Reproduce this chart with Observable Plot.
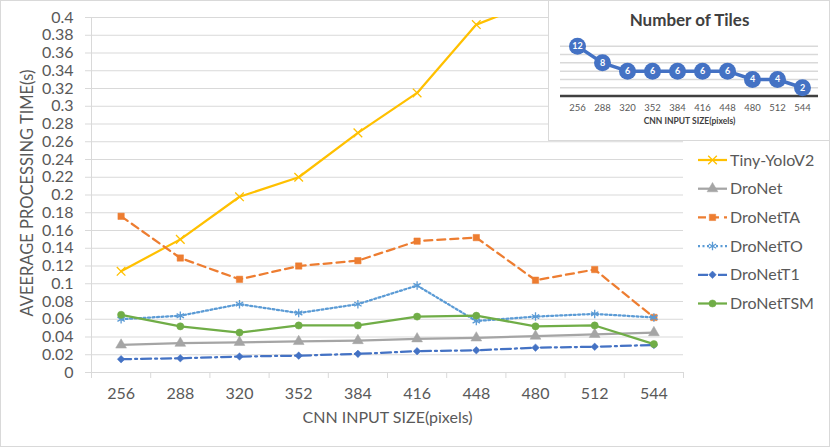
<!DOCTYPE html>
<html><head><meta charset="utf-8">
<script src="https://cdn.jsdelivr.net/npm/d3@7"></script>
<script src="https://cdn.jsdelivr.net/npm/@observablehq/plot@0.6"></script>
<style>
body{margin:0;background:#fff;}
#wrap{position:relative;width:830px;height:447px;overflow:hidden;font-family:Lato,sans-serif;}
#main{position:absolute;left:0;top:0;}
#border{position:absolute;left:0;top:0;width:828px;height:445px;border:1px solid #d9d9d9;pointer-events:none;}
#inset{position:absolute;left:548px;top:0;width:280px;height:139px;border:1px solid #d9d9d9;background:#fff;}
#inset svg{display:block;}
#legend{position:absolute;left:696px;top:146px;}
</style></head><body>
<div id="wrap"><div id="main"></div><div id="legend"></div><div id="inset"></div><div id="border"></div></div>
<script>
// ---- data ----
const sizes = [256, 288, 320, 352, 384, 416, 448, 480, 512, 544];
const tinyYoloV2 = [0.114, 0.150, 0.198, 0.220, 0.270, 0.315, 0.392, 0.418]; // rises beyond the 0.4 top after 448
const droNet    = [0.031, 0.033, 0.034, 0.035, 0.036, 0.038, 0.039, 0.041, 0.043, 0.045];
const droNetTA  = [0.176, 0.129, 0.105, 0.120, 0.126, 0.148, 0.152, 0.104, 0.116, 0.062];
const droNetTO  = [0.060, 0.064, 0.077, 0.067, 0.077, 0.098, 0.058, 0.063, 0.066, 0.062];
const droNetT1  = [0.015, 0.016, 0.018, 0.019, 0.021, 0.024, 0.025, 0.028, 0.029, 0.031];
const droNetTSM = [0.065, 0.052, 0.045, 0.053, 0.053, 0.063, 0.064, 0.052, 0.053, 0.032];
const tiles     = [12, 8, 6, 6, 6, 6, 6, 4, 4, 2];
const yTicks = [0, 0.02, 0.04, 0.06, 0.08, 0.1, 0.12, 0.14, 0.16, 0.18, 0.2, 0.22, 0.24, 0.26, 0.28, 0.3, 0.32, 0.34, 0.36, 0.38, 0.4];
const tileTicks = [2, 4, 6, 8, 10, 12];

// ---- styles ----
const series = [
  {name: "Tiny-YoloV2", values: tinyYoloV2, color: "#FFC000", symbol: "times",    filled: false, dash: null, r: 4},
  {name: "DroNet",      values: droNet,     color: "#A5A5A5", symbol: "triangle", filled: true,  dash: null, r: 4},
  {name: "DroNetTA",    values: droNetTA,   color: "#ED7D31", symbol: "square",   filled: true,  dash: "8,5", r: 3.6},
  {name: "DroNetTO",    values: droNetTO,   color: "#5B9BD5", symbol: "asterisk", filled: false, dash: "2,2.5", r: 4},
  {name: "DroNetT1",    values: droNetT1,   color: "#4472C4", symbol: "diamond2", filled: true,  dash: "10,4,2,4", r: 3.4},
  {name: "DroNetTSM",   values: droNetTSM,  color: "#70AD47", symbol: "circle",   filled: true,  dash: null, r: 3.6}
];
const table = series.flatMap(s => s.values.map((v, i) => ({series: s.name, size: sizes[i], value: v})));
const boundaries = sizes.map(s => s - 16).concat([sizes[sizes.length - 1] + 16]);
const fmt = d => String(+d.toFixed(2));

const seriesMarks = series.flatMap(s => {
  const data = table.filter(d => d.series === s.name);
  return [
    Plot.line(data, {x: "size", y: "value", stroke: s.color, strokeWidth: 2.25, strokeDasharray: s.dash, clip: true}),
    Plot.dot(data, {x: "size", y: "value", symbol: () => s.symbol, r: s.r,
      fill: s.filled ? s.color : "none", stroke: s.color, strokeWidth: s.filled ? 0.5 : 1.3, clip: true})
  ];
});

const main = Plot.plot({
  width: 830, height: 447,
  marginLeft: 91, marginRight: 147, marginTop: 17, marginBottom: 75,
  x: {type: "linear", domain: [240, 560]},
  y: {domain: [0, 0.4]},
  symbol: {type: "identity"},
  style: {fontFamily: "Lato, sans-serif", fontSize: "16px", color: "#595959", background: "transparent"},
  marks: [
    Plot.gridY(yTicks, {stroke: "#d9d9d9", strokeOpacity: 1, strokeWidth: 1}),
    Plot.ruleX([240], {stroke: "#d9d9d9"}),
    Plot.ruleY([0], {stroke: "#d9d9d9"}),
    Plot.axisY(yTicks, {tickSize: 6, tickPadding: 12, tickFormat: fmt, stroke: "#d9d9d9", fill: "#595959", label: null, fontSize: 16}),
    Plot.axisX(boundaries, {tickSize: 6, tickFormat: () => "", stroke: "#d9d9d9", label: null}),
    Plot.axisX(sizes, {tickSize: 0, tickPadding: 15, tickFormat: d => String(d), fill: "#595959", label: null, fontSize: 16}),
    Plot.text(["CNN INPUT SIZE(pixels)"], {frameAnchor: "bottom", dy: 50, text: d => d, fontSize: 16, fill: "#595959"}),
    Plot.text(["AVEERAGE PROCESSING TIME(s)"], {frameAnchor: "left", textAnchor: "middle", rotate: -90, dx: -64, dy: -2, text: d => d, fontSize: 16.5, fill: "#595959"}),
    ...seriesMarks
  ]
});
document.getElementById("main").appendChild(main);

// ---- legend ----
const symMap = {times: d3.symbolTimes, triangle: d3.symbolTriangle, square: d3.symbolSquare,
  asterisk: d3.symbolAsterisk, diamond2: d3.symbolDiamond2, circle: d3.symbolCircle};
const rowH = 28.7;
const lg = d3.select("#legend").append("svg").attr("width", 134).attr("height", 180)
  .style("font-family", "Lato, sans-serif");
series.forEach((s, i) => {
  const g = lg.append("g").attr("transform", `translate(0,${14 + i * rowH})`);
  g.append("line").attr("x1", 2).attr("x2", 31).attr("y1", 0).attr("y2", 0)
    .attr("stroke", s.color).attr("stroke-width", 2.25).attr("stroke-dasharray", s.dash);
  g.append("path").attr("transform", "translate(16.5,0)")
    .attr("d", d3.symbol(symMap[s.symbol], s.r * s.r * Math.PI)())
    .attr("fill", s.filled ? s.color : "none").attr("stroke", s.color).attr("stroke-width", s.filled ? 0.5 : 1.3);
  g.append("text").attr("x", 34).attr("y", 0).attr("dy", "0.35em").attr("font-size", 16)
    .attr("fill", "#595959").text(s.name);
});

// ---- inset: number of tiles ----
const tileData = sizes.map((s, i) => ({size: s, tiles: tiles[i]}));
const inset = Plot.plot({
  width: 280, height: 139,
  marginLeft: 11, marginRight: 11, marginTop: 44.7, marginBottom: 44.4,
  x: {type: "point", domain: sizes, padding: 0.5},
  y: {domain: [0, 12], axis: null},
  style: {fontFamily: "Lato, sans-serif", background: "white", color: "#595959"},
  marks: [
    Plot.gridY(tileTicks, {stroke: "#d9d9d9", strokeOpacity: 1, strokeWidth: 1.5}),
    Plot.ruleY([0], {stroke: "#404040", strokeWidth: 2.5}),
    Plot.line(tileData, {x: "size", y: "tiles", stroke: "#4472C4", strokeWidth: 3.5}),
    Plot.dot(tileData, {x: "size", y: "tiles", r: 8.5, fill: "#4472C4"}),
    Plot.text(tileData, {x: "size", y: "tiles", text: d => String(d.tiles), fill: "white", fontWeight: "bold", fontSize: 9}),
    Plot.axisX(sizes, {tickSize: 0, tickPadding: 8, tickFormat: d => String(d), fill: "#595959", label: null, fontSize: 9.5}),
    Plot.text(["Number of Tiles"], {frameAnchor: "top", dy: -32, text: d => d, fontSize: 17, fontWeight: "bold", fill: "#404040"}),
    Plot.text(["CNN INPUT SIZE(pixels)"], {frameAnchor: "bottom", dy: 27.5, text: d => d, fontSize: 8.5, fontWeight: "bold", fill: "#404040"})
  ]
});
document.getElementById("inset").appendChild(inset);
</script>
</body></html>
